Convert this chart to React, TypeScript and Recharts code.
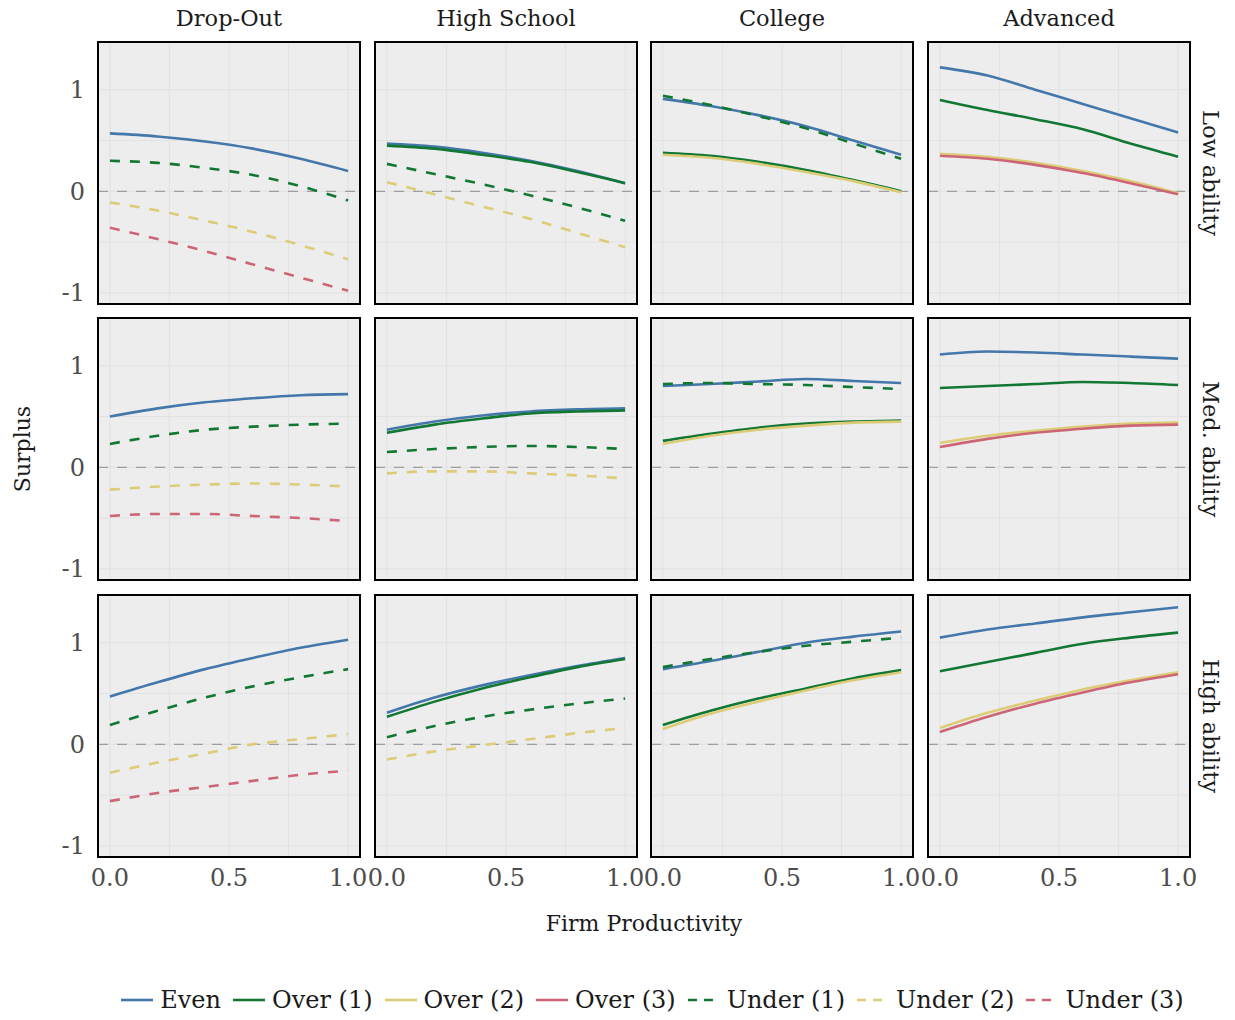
import React from "react";
import { LineChart, Line, XAxis, YAxis, CartesianGrid, ReferenceLine } from "recharts";

// firm productivity grid
const X = [0, 0.2, 0.4, 0.6, 0.8, 1.0];

const COLUMNS = ["Drop-Out", "High School", "College", "Advanced"];
const ROWS = ["Low ability", "Med. ability", "High ability"];

const X_TICKS = [0, 0.25, 0.5, 0.75, 1];
const Y_TICKS = [-1, -0.5, 0, 0.5, 1];

const SERIES = [
  { key: "even", name: "Even", color: "#4477AA", dashed: false },
  { key: "over1", name: "Over (1)", color: "#117733", dashed: false },
  { key: "over2", name: "Over (2)", color: "#DDCC77", dashed: false },
  { key: "over3", name: "Over (3)", color: "#CC6677", dashed: false },
  { key: "under1", name: "Under (1)", color: "#117733", dashed: true },
  { key: "under2", name: "Under (2)", color: "#DDCC77", dashed: true },
  { key: "under3", name: "Under (3)", color: "#CC6677", dashed: true },
];

// Low ability
const lowDropOut = {
  even: [0.57, 0.54, 0.49, 0.42, 0.32, 0.2],
  under1: [0.3, 0.28, 0.23, 0.16, 0.05, -0.09],
  under2: [-0.11, -0.19, -0.29, -0.4, -0.53, -0.67],
  under3: [-0.36, -0.47, -0.59, -0.72, -0.85, -0.98],
};
const lowHighSchool = {
  even: [0.47, 0.44, 0.38, 0.3, 0.2, 0.08],
  over1: [0.45, 0.42, 0.36, 0.29, 0.19, 0.08],
  under1: [0.27, 0.17, 0.07, -0.04, -0.16, -0.29],
  under2: [0.09, -0.03, -0.15, -0.27, -0.41, -0.55],
};
const lowCollege = {
  even: [0.91, 0.84, 0.75, 0.64, 0.5, 0.36],
  over1: [0.38, 0.35, 0.29, 0.21, 0.11, 0.0],
  over2: [0.36, 0.33, 0.27, 0.19, 0.1, -0.01],
  under1: [0.94, 0.85, 0.74, 0.62, 0.47, 0.32],
};
const lowAdvanced = {
  even: [1.22, 1.14, 1.0, 0.86, 0.72, 0.58],
  over1: [0.9, 0.8, 0.71, 0.61, 0.47, 0.34],
  over2: [0.37, 0.34, 0.28, 0.2, 0.1, -0.02],
  over3: [0.35, 0.32, 0.26, 0.18, 0.08, -0.03],
};

// Med. ability
const medDropOut = {
  even: [0.5, 0.58, 0.64, 0.68, 0.71, 0.72],
  under1: [0.23, 0.31, 0.37, 0.4, 0.42, 0.43],
  under2: [-0.22, -0.19, -0.17, -0.16, -0.17, -0.19],
  under3: [-0.48, -0.46, -0.46, -0.48, -0.5, -0.53],
};
const medHighSchool = {
  even: [0.37, 0.45, 0.51, 0.55, 0.57, 0.58],
  over1: [0.34, 0.42, 0.48, 0.53, 0.55, 0.56],
  under1: [0.15, 0.18, 0.2, 0.21, 0.2, 0.18],
  under2: [-0.06, -0.04, -0.04, -0.06, -0.08, -0.11],
};
const medCollege = {
  even: [0.8, 0.82, 0.845, 0.87, 0.85, 0.83],
  over1: [0.26, 0.33, 0.39, 0.43, 0.45, 0.46],
  over2: [0.23, 0.31, 0.37, 0.41, 0.44, 0.45],
  under1: [0.82, 0.83, 0.82, 0.81, 0.79, 0.77],
};
const medAdvanced = {
  even: [1.11, 1.14, 1.13, 1.11, 1.09, 1.07],
  over1: [0.78, 0.8, 0.82, 0.84, 0.83, 0.81],
  over2: [0.24, 0.31, 0.36, 0.4, 0.43, 0.44],
  over3: [0.2, 0.28, 0.34, 0.38, 0.41, 0.42],
};

// High ability
const highDropOut = {
  even: [0.47, 0.61, 0.74, 0.85, 0.95, 1.03],
  under1: [0.19, 0.33, 0.46, 0.57, 0.66, 0.74],
  under2: [-0.28, -0.18, -0.09, 0.0, 0.05, 0.1],
  under3: [-0.56, -0.48, -0.42, -0.36, -0.3, -0.26],
};
const highHighSchool = {
  even: [0.31, 0.46, 0.58, 0.68, 0.77, 0.85],
  over1: [0.27, 0.42, 0.55, 0.66, 0.76, 0.84],
  under1: [0.07, 0.18, 0.27, 0.34, 0.4, 0.45],
  under2: [-0.15, -0.07, -0.01, 0.05, 0.11, 0.16],
};
const highCollege = {
  even: [0.74, 0.82, 0.91, 1.0, 1.06, 1.11],
  over1: [0.19, 0.33, 0.45, 0.55, 0.65, 0.73],
  over2: [0.15, 0.3, 0.42, 0.53, 0.63, 0.71],
  under1: [0.76, 0.84, 0.91, 0.97, 1.01, 1.05],
};
const highAdvanced = {
  even: [1.05, 1.13, 1.19, 1.25, 1.3, 1.35],
  over1: [0.72, 0.81, 0.9, 0.99, 1.05, 1.1],
  over2: [0.16, 0.31, 0.43, 0.54, 0.63, 0.71],
  over3: [0.12, 0.27, 0.4, 0.51, 0.61, 0.69],
};

const PANELS: Record<string, number[]>[][] = [
  [lowDropOut, lowHighSchool, lowCollege, lowAdvanced],
  [medDropOut, medHighSchool, medCollege, medAdvanced],
  [highDropOut, highHighSchool, highCollege, highAdvanced],
];

const FONT = "'DejaVu Serif', serif";
const COL_LEFT = [98, 375, 651, 928];
const ROW_TOP = [42, 318, 595];
const SIZE = 262;
const Y_AXIS_W = 50;
const X_AXIS_H = 40;

function toRows(panel: Record<string, number[]>) {
  return X.map((x, i) => {
    const row: Record<string, number> = { x };
    Object.keys(panel).forEach((k) => {
      row[k] = panel[k][i];
    });
    return row;
  });
}

function Panel({ panel, row, col }: { panel: Record<string, number[]>; row: number; col: number }) {
  const showY = col === 0;
  const showX = row === 2;
  const width = SIZE + (showY ? Y_AXIS_W : 0);
  const height = SIZE + (showX ? X_AXIS_H : 0);
  const left = COL_LEFT[col] - (showY ? Y_AXIS_W : 0);
  const top = ROW_TOP[row];
  return (
    <>
      <div style={{ position: "absolute", left, top }}>
        <LineChart width={width} height={height} data={toRows(panel)} margin={{ top: 0, right: 0, bottom: 0, left: 0 }}>
          <CartesianGrid fill="#EDEDED" stroke="#E2E2E2" strokeWidth={1} />
          <XAxis
            type="number"
            dataKey="x"
            domain={[-0.05, 1.05]}
            ticks={X_TICKS}
            allowDataOverflow
            hide={!showX}
            height={X_AXIS_H}
            tickLine={false}
            axisLine={false}
            tickSize={0}
            tickMargin={12}
            interval={0}
            tickFormatter={(v: number) => (v === 0.25 || v === 0.75 ? "" : v.toFixed(1))}
            tick={{ fill: "#4D4D4D", fontSize: 24, fontFamily: FONT }}
          />
          <YAxis
            type="number"
            domain={[-1.11, 1.47]}
            ticks={Y_TICKS}
            allowDataOverflow
            hide={!showY}
            width={Y_AXIS_W}
            tickLine={false}
            axisLine={false}
            tickSize={0}
            tickMargin={13}
            interval={0}
            tickFormatter={(v: number) => (Number.isInteger(v) ? String(v) : "")}
            tick={{ fill: "#4D4D4D", fontSize: 24, fontFamily: FONT }}
          />
          <ReferenceLine y={0} stroke="#9E9E9E" strokeWidth={1.3} strokeDasharray="10 9" />
          {SERIES.filter((s) => panel[s.key]).map((s) => (
            <Line
              key={s.key}
              dataKey={s.key}
              type="monotone"
              stroke={s.color}
              strokeWidth={2.6}
              strokeDasharray={s.dashed ? "10 10" : undefined}
              dot={false}
              activeDot={false}
              isAnimationActive={false}
            />
          ))}
        </LineChart>
      </div>
      <div
        style={{
          position: "absolute",
          left: COL_LEFT[col] - 1,
          top: ROW_TOP[row] - 1,
          width: SIZE + 2,
          height: SIZE + 2,
          boxSizing: "border-box",
          border: "2px solid #000",
          pointerEvents: "none",
        }}
      />
    </>
  );
}

function LegendKey({ color, dashed }: { color: string; dashed: boolean }) {
  return (
    <svg width={32} height={6} style={{ marginRight: 7 }}>
      <line x1={0} y1={3} x2={32} y2={3} stroke={color} strokeWidth={2.6} strokeDasharray={dashed ? "9 7" : undefined} />
    </svg>
  );
}

export default function App() {
  return (
    <div
      style={{
        position: "absolute",
        left: 0,
        top: 0,
        width: 1235,
        height: 1020,
        background: "#fff",
        fontFamily: FONT,
        color: "#1A1A1A",
      }}
    >
      <style>{".recharts-wrapper svg, .recharts-surface { overflow: visible; }"}</style>
      {COLUMNS.map((c, i) => (
        <div
          key={c}
          style={{
            position: "absolute",
            left: COL_LEFT[i],
            width: SIZE,
            top: 3,
            textAlign: "center",
            fontSize: 22.5,
            lineHeight: "30px",
          }}
        >
          {c}
        </div>
      ))}
      {ROWS.map((r, i) => (
        <div
          key={r}
          style={{
            position: "absolute",
            left: 1211,
            top: ROW_TOP[i] + SIZE / 2,
            transform: "translate(-50%, -50%) rotate(90deg)",
            whiteSpace: "nowrap",
            fontSize: 22.5,
          }}
        >
          {r}
        </div>
      ))}
      <div
        style={{
          position: "absolute",
          left: 22,
          top: 449,
          transform: "translate(-50%, -50%) rotate(-90deg)",
          whiteSpace: "nowrap",
          fontSize: 22,
        }}
      >
        Surplus
      </div>
      <div
        style={{
          position: "absolute",
          left: 644,
          top: 923,
          transform: "translate(-50%, -50%)",
          whiteSpace: "nowrap",
          fontSize: 22,
        }}
      >
        Firm Productivity
      </div>

      {PANELS.map((rowPanels, r) => rowPanels.map((p, c) => <Panel key={`${r}-${c}`} panel={p} row={r} col={c} />))}

      <div
        style={{
          position: "absolute",
          left: 0,
          width: 1305,
          top: 985,
          display: "flex",
          justifyContent: "center",
          alignItems: "center",
          fontSize: 24,
          lineHeight: "30px",
          whiteSpace: "nowrap",
        }}
      >
        {SERIES.map((s, i) => (
          <div key={s.key} style={{ display: "flex", alignItems: "center", marginRight: i < SERIES.length - 1 ? 12 : 0 }}>
            <LegendKey color={s.color} dashed={s.dashed} />
            <span>{s.name}</span>
          </div>
        ))}
      </div>
    </div>
  );
}
